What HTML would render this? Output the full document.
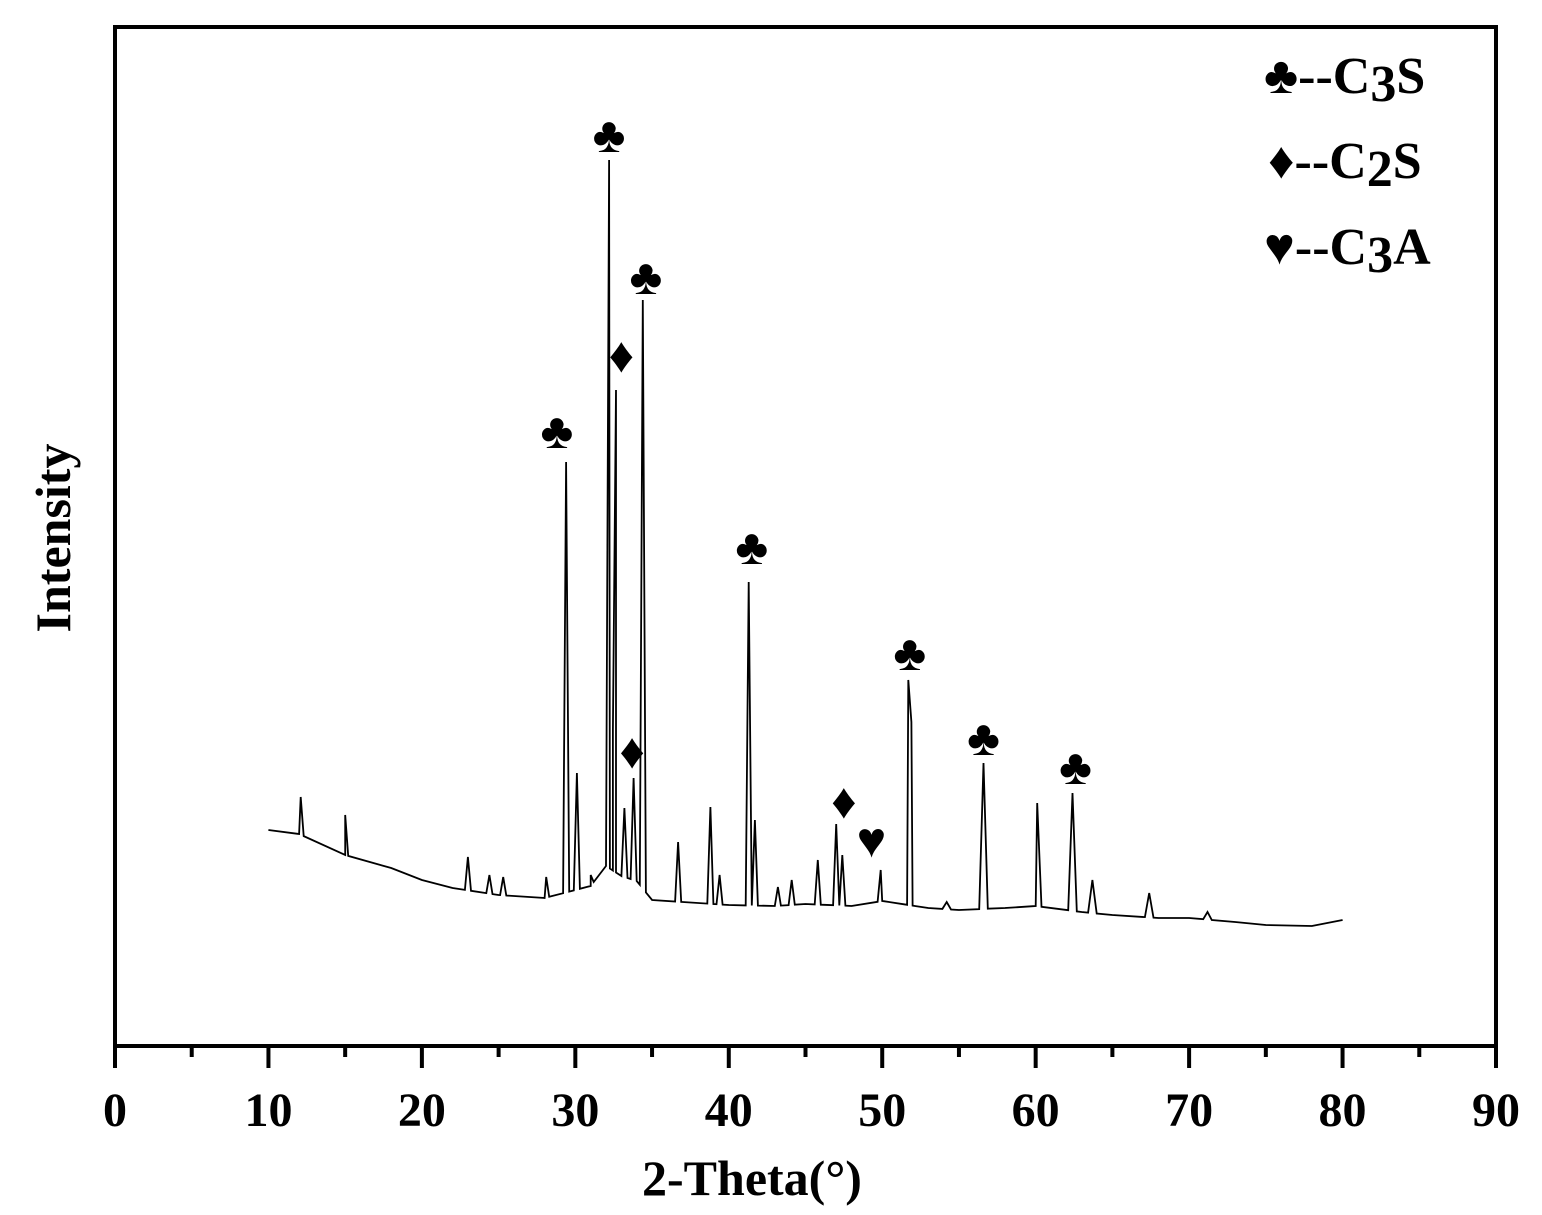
<!DOCTYPE html>
<html><head><meta charset="utf-8"><style>
body{margin:0;background:#fff}
svg{display:block;font-family:"Liberation Serif",serif;font-weight:bold}
</style></head><body>
<svg id="chart" width="1542" height="1215" viewBox="0 0 1542 1215">
<rect x="115" y="27" width="1381" height="1019" fill="none" stroke="#000" stroke-width="4"/>
<g id="ticks"></g>
<path id="curve" fill="none" stroke="#000" stroke-width="1.8"/>
<g id="marks"></g>
<text x="752" y="1195" font-size="50" text-anchor="middle">2-Theta(°)</text>
<text transform="translate(70,538) rotate(-90)" font-size="50" text-anchor="middle">Intensity</text>
<g font-size="52">
<text x="1264" y="93">♣--C<tspan dy="8">3</tspan><tspan dy="-8">S</tspan></text>
<text x="1268" y="178">♦--C<tspan dy="8">2</tspan><tspan dy="-8">S</tspan></text>
<text x="1264" y="264">♥--C<tspan dy="8">3</tspan><tspan dy="-8">A</tspan></text>
</g>
</svg>
<script>
const baseTheta=[10,12,15,18,20,22,25,28,31,32,33,34,35,37,40,43,45,48,50,53,55,58,60,63,65,68,70,73,75,78,80];
const baseInt=[216,212,191,178,166,158,151,148,160,180,170,165,146,144,141,140,142,140,145,138,136,138,140,134,131,128,128,124,121,120,126];
const peakTheta=[12.1,15.0,23.0,24.4,25.3,28.1,29.4,30.1,31.0,32.2,32.45,32.65,33.2,33.8,34.4,36.7,38.8,39.4,41.3,41.7,43.2,44.1,45.8,47.0,47.4,49.9,51.7,51.9,54.2,56.6,60.1,62.4,63.7,67.4,71.2];
const peakInt=[249,231,189,171,169,169,584,273,171,886,316,656,238,268,746,204,239,171,464,226,159,166,186,222,191,176,366,324,144,283,243,253,166,153,134];
const markSym=['♣','♦','♣','♣','♦','♣','♦','♥','♣','♣','♣'];
const markTheta=[28.8,33.0,32.2,34.6,33.7,41.5,47.5,49.3,51.8,56.6,62.6];
const markInt=[614,690,910,768,294,498,244,205,392,307,278];
const ticksMajor=[0,10,20,30,40,50,60,70,80,90];
const X=t=>115+(t-0)*1381/90;
const Y=i=>1046-i;
const ns='http://www.w3.org/2000/svg';
function baseAt(t){for(let k=0;k<baseTheta.length-1;k++){if(t<=baseTheta[k+1]){const f=(t-baseTheta[k])/(baseTheta[k+1]-baseTheta[k]);return baseInt[k]+f*(baseInt[k+1]-baseInt[k]);}}return baseInt[baseInt.length-1];}
let pts=baseTheta.map((t,i)=>[t,baseInt[i]]);
peakTheta.forEach((t,i)=>{const w=t>50?0.28:0.2;pts.push([t-w,baseAt(t-w)]);pts.push([t,peakInt[i]]);pts.push([t+w,baseAt(t+w)]);});
pts.sort((a,b)=>a[0]-b[0]);
document.getElementById('curve').setAttribute('d','M'+pts.map(p=>X(p[0]).toFixed(1)+','+Y(p[1]).toFixed(1)).join('L'));
const mg=document.getElementById('marks');
markSym.forEach((s,i)=>{const e=document.createElementNS(ns,'text');e.setAttribute('x',X(markTheta[i]));e.setAttribute('y',Y(markInt[i])+16);e.setAttribute('font-size','50');e.setAttribute('text-anchor','middle');e.textContent=s;


mg.appendChild(e);});
const tg=document.getElementById('ticks');
for(let t=0;t<=90;t+=5){const maj=t%10===0;const l=document.createElementNS(ns,'line');l.setAttribute('x1',X(t));l.setAttribute('x2',X(t));l.setAttribute('y1',1046);l.setAttribute('y2',maj?1068:1057);l.setAttribute('stroke','#000');l.setAttribute('stroke-width','4');


tg.appendChild(l);}
ticksMajor.forEach(t=>{const e=document.createElementNS(ns,'text');e.setAttribute('x',X(t));e.setAttribute('y',1126);e.setAttribute('font-size','48');e.setAttribute('text-anchor','middle');e.textContent=t;


tg.appendChild(e);});
</script>
</body></html>
